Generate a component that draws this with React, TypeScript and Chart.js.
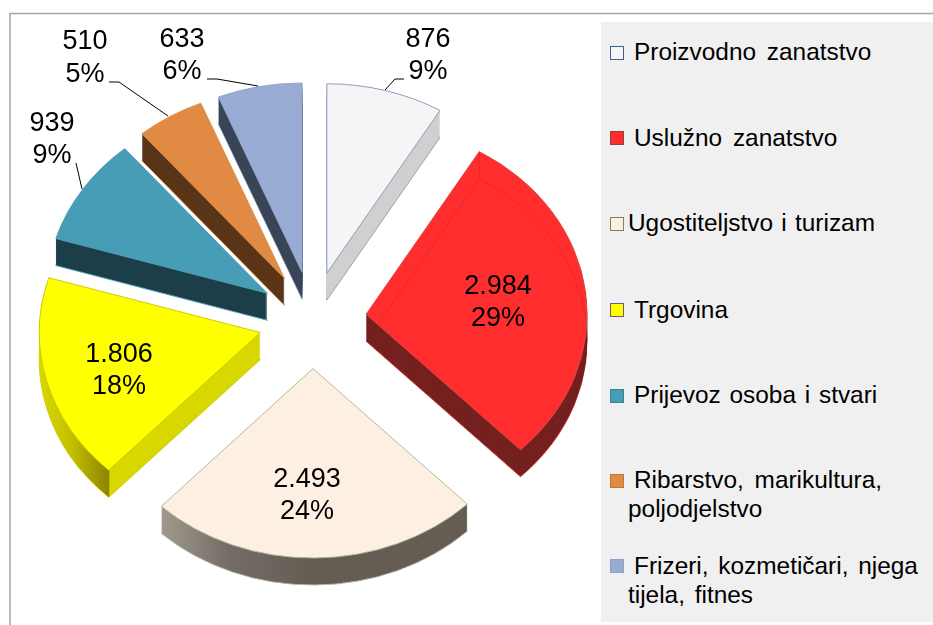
import React, { useEffect, useRef } from "react";
import { Chart, registerables } from "chart.js";

Chart.register(...registerables);

const categories = [
  "Proizvodno zanatstvo",
  "Uslužno zanatstvo",
  "Ugostiteljstvo i turizam",
  "Trgovina",
  "Prijevoz osoba i stvari",
  "Ribarstvo, marikultura, poljodjelstvo",
  "Frizeri, kozmetičari, njega tijela, fitnes",
];
const values = [876, 2984, 2493, 1806, 939, 510, 633];
const topColors = ["#f5f5f6", "#ff2d2d", "#fdf0e2", "#ffff00", "#469db5", "#e08a43", "#98abd3"];
const sideColors = ["#d0d0d0", "#74201f", "#655d54", "#d8d800", "#1c3f4a", "#5a3417", "#3a4557"];
const edgeColors = ["#8198ba", "#d84a4a", "#adb79c", "#c8c800", "#55a0b4", "#d89050", "#93a6ca"];
const legendEdges = ["#3d6396", "#94403f", "#76894f", "#6a5a8a", "#3c8398", "#c4762f", "#8fa2c5"];

const FONT = '"Liberation Sans", Arial, sans-serif';
const TILT = 0.857;
const DEPTH = 27;
const EXPLODE_X = 54;
const EXPLODE_Y = 56.7;

// label centre x, first-line y, second-line y
const labelSpots = [
  [428, 40, 72],
  [498, 287, 319],
  [307, 480, 512],
  [119, 355, 387],
  [52, 124, 156],
  [85, 42, 75],
  [182, 40, 72],
];
const leaders: number[][][] = [
  [[404, 79], [395, 79], [385, 90]],
  [],
  [],
  [],
  [[76, 163], [82, 189]],
  [[109, 82], [119, 82], [168, 116]],
  [[207, 79], [217, 79], [258, 86]],
];
// legend rows: box top, text top, first-line indent, word spacing
const legendRows = [
  [46, 38, 6, 4],
  [131, 124, 6, 4],
  [217, 209, 0, 1.5],
  [303, 296, 6, 4],
  [389, 381, 6, 2],
  [474, 466, 6, 4],
  [559, 552, 6, 3],
];

function wallFill(ctx: CanvasRenderingContext2D, arc: any, i: number) {
  const r = arc.outerRadius;
  if (i === 3) {
    const left = arc.x - r;
    const corner = arc.x + r * Math.cos(arc.startAngle);
    const g = ctx.createLinearGradient(left, 0, corner + 1, 0);
    g.addColorStop(0, "#d8d800");
    g.addColorStop(0.45, "#c4c000");
    g.addColorStop(0.99, "#8c8400");
    g.addColorStop(1, "#d8d800");
    return g;
  }
  if (i === 2) {
    const left = arc.x + r * Math.cos(arc.endAngle);
    const g = ctx.createLinearGradient(left, 0, arc.x, 0);
    g.addColorStop(0, "#a09a8e");
    g.addColorStop(0.45, "#746c65");
    g.addColorStop(1, "#655d54");
    return g;
  }
  return sideColors[i];
}

const pie3d = {
  id: "pie3d",
  beforeDatasetDraw(chart: any, args: any) {
    const ctx: CanvasRenderingContext2D = chart.ctx;
    const arcs = args.meta.data;
    const place = (arc: any, depth: number) => {
      const mid = (arc.startAngle + arc.endAngle) / 2;
      ctx.translate(0, depth);
      ctx.translate(arc.x, arc.y);
      ctx.scale(1, TILT);
      ctx.translate(-arc.x, -arc.y);
      ctx.translate(Math.cos(mid) * EXPLODE_X, Math.sin(mid) * EXPLODE_Y);
    };
    arcs.forEach((arc: any, i: number) => {
      const base = arc.options;
      for (let d = DEPTH; d >= 1; d--) {
        ctx.save();
        place(arc, d);
        arc.options = {
          ...base,
          backgroundColor: wallFill(ctx, arc, i),
          borderWidth: d === DEPTH ? 1 : 0,
          borderColor: edgeColors[i],
        };
        arc.draw(ctx);
        ctx.restore();
      }
      arc.options = base;
    });
    arcs.forEach((arc: any) => {
      ctx.save();
      place(arc, 0);
      arc.draw(ctx);
      ctx.restore();
    });
    // faint far edge that shows through the red slice
    const red = arcs[1];
    ctx.save();
    place(red, 0);
    ctx.beginPath();
    ctx.moveTo(red.x, red.y);
    ctx.arc(red.x, red.y, red.outerRadius - 1, red.startAngle, red.endAngle);
    ctx.closePath();
    ctx.clip();
    const base = red.options;
    red.options = { ...base, backgroundColor: "rgba(0,0,0,0)", borderColor: "#ea2727", borderWidth: 1 };
    const sx = red.x + red.outerRadius * Math.cos(red.startAngle);
    const sy = red.y + red.outerRadius * Math.sin(red.startAngle);
    ctx.strokeStyle = "#ea2727";
    ctx.lineWidth = 1;
    ctx.beginPath();
    ctx.moveTo(sx, sy);
    ctx.lineTo(sx, sy + DEPTH / TILT);
    ctx.stroke();
    ctx.translate(0, DEPTH / TILT);
    red.draw(ctx);
    red.options = base;
    ctx.restore();
    return false;
  },
  afterDraw(chart: any) {
    const ctx: CanvasRenderingContext2D = chart.ctx;
    const total = values.reduce((a, b) => a + b, 0);
    ctx.save();
    ctx.strokeStyle = "#a6a6a6";
    ctx.lineWidth = 1.5;
    ctx.beginPath();
    ctx.moveTo(10, 625);
    ctx.lineTo(10, 13.5);
    ctx.lineTo(933, 13.5);
    ctx.stroke();
    ctx.strokeStyle = "#000000";
    ctx.lineWidth = 1;
    leaders.forEach((pts) => {
      if (!pts.length) return;
      ctx.beginPath();
      pts.forEach((p, k) => (k ? ctx.lineTo(p[0], p[1]) : ctx.moveTo(p[0], p[1])));
      ctx.stroke();
    });
    ctx.fillStyle = "#000000";
    ctx.font = `27px ${FONT}`;
    ctx.textAlign = "center";
    ctx.textBaseline = "middle";
    values.forEach((v, i) => {
      const [x, y1, y2] = labelSpots[i];
      const txt = v >= 1000 ? `${Math.floor(v / 1000)}.${String(v % 1000).padStart(3, "0")}` : String(v);
      ctx.fillText(txt, x, y1);
      ctx.fillText(`${Math.round((v / total) * 100)}%`, x, y2);
    });
    ctx.restore();
  },
};

export default function App() {
  const ref = useRef<HTMLCanvasElement>(null);
  useEffect(() => {
    const chart = new Chart(ref.current as HTMLCanvasElement, {
      type: "pie",
      data: {
        labels: categories,
        datasets: [
          {
            data: values,
            backgroundColor: topColors,
            borderColor: edgeColors,
            borderWidth: 1,
          },
        ],
      },
      options: {
        responsive: false,
        animation: false,
        radius: 221,
        layout: { padding: { left: 0, right: 308, top: 15, bottom: 0 } },
        plugins: { legend: { display: false }, tooltip: { enabled: false } },
      } as any,
      plugins: [pie3d],
    });
    return () => chart.destroy();
  }, []);

  return (
    <div style={{ position: "absolute", left: 0, top: 0, width: 933, height: 625, overflow: "hidden", background: "#fff" }}>
      <canvas ref={ref} width={933} height={625} style={{ position: "absolute", left: 0, top: 0, display: "block" }} />
      <div style={{ position: "absolute", left: 601, top: 22, width: 332, height: 600, background: "#f0f0f0" }} />
      {categories.map((name, i) => {
        const [boxTop, textTop, indent, gap] = legendRows[i];
        return (
          <React.Fragment key={name}>
            <div
              style={{
                position: "absolute",
                left: 610,
                top: boxTop,
                width: 12,
                height: 12,
                background: topColors[i],
                border: `1.5px solid ${legendEdges[i]}`,
              }}
            />
            <div
              style={{
                position: "absolute",
                left: 628,
                top: textTop,
                width: 300,
                font: `24.4px/28.5px ${FONT}`,
                wordSpacing: gap,
                textIndent: indent,
                color: "#000",
              }}
            >
              {name}
            </div>
          </React.Fragment>
        );
      })}
    </div>
  );
}
